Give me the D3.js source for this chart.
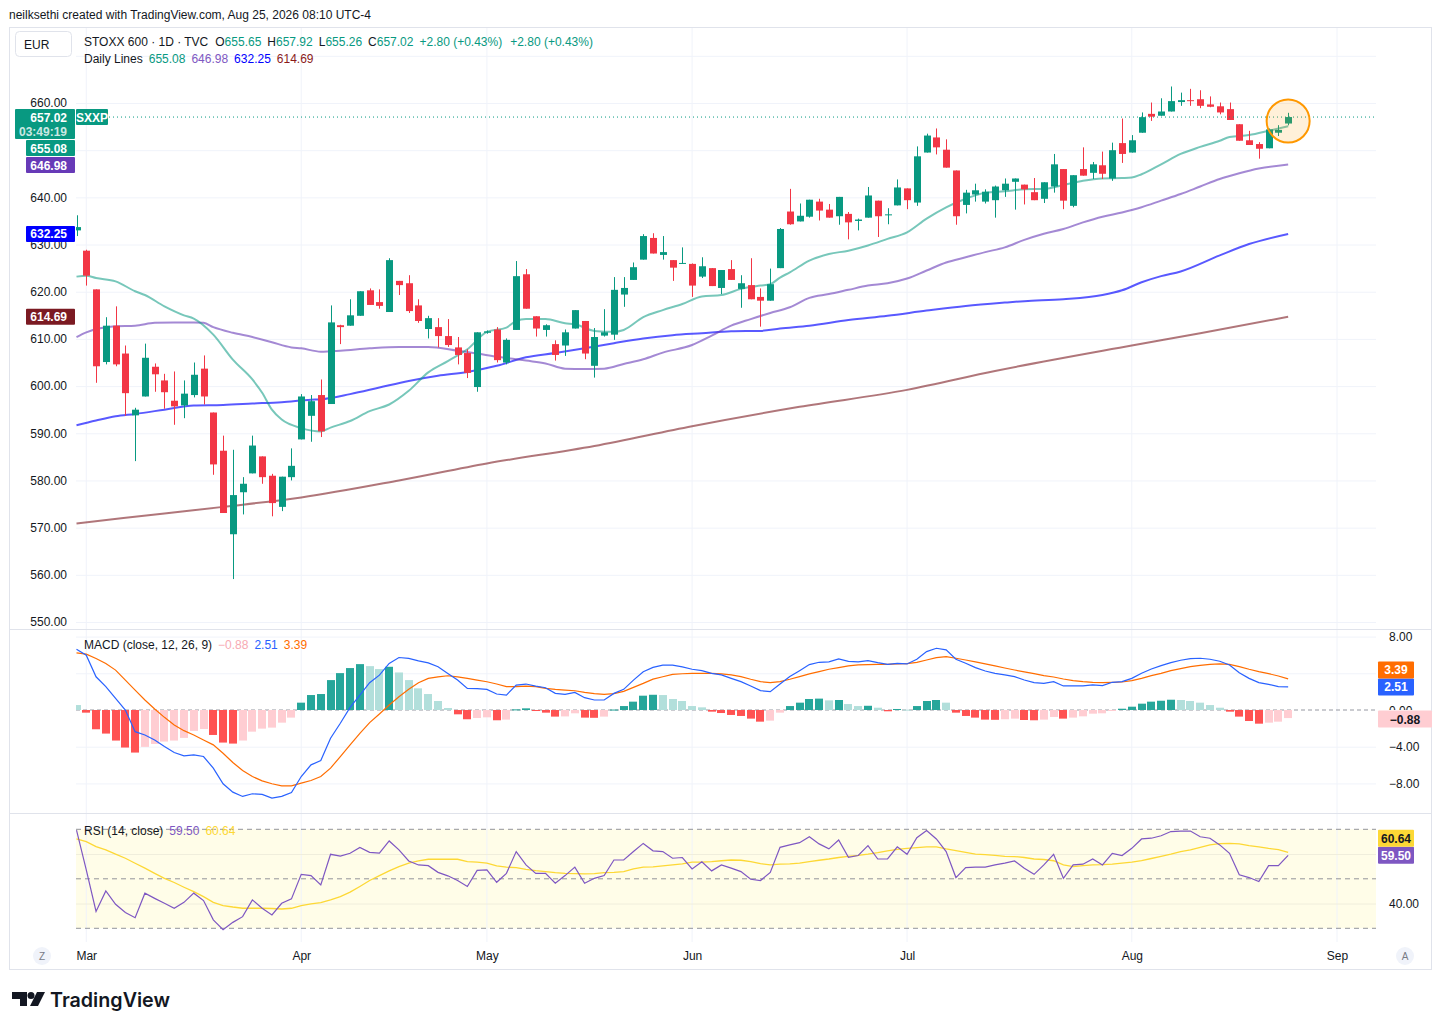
<!DOCTYPE html>
<html>
<head>
<meta charset="utf-8">
<script src="https://cdn.jsdelivr.net/npm/d3@7"></script>
<style>
  body { margin: 0; background: #fff; }
  svg text { font-family: "Liberation Sans", Arial, sans-serif; }
</style>
</head>
<body>
<svg id="chart" width="1441" height="1030"></svg>
<script>
// Données : une bougie par séance, la première (index -1) est celle du 27 février
const firstBar = -1;

const open = [
  633.0, 628.7, 620.5, 605.1, 612.8, 606.9, 593.8, 597.8, 604.1, 601.2,
  596.9, 595.9, 598.1, 603.7, 594.4, 586.3, 568.6, 577.5, 581.5, 585.1,
  581.0, 574.4, 580.7, 588.7, 593.7, 598.1, 596.2, 612.9, 612.8, 614.9,
  620.3, 617.8, 615.7, 622.3, 621.8, 617.1, 612.1, 612.5, 610.6, 608.2,
  607.0, 599.8, 611.3, 612.0, 605.0, 611.9, 623.7, 614.8, 611.9, 608.9,
  608.6, 612.2, 613.8, 604.3, 610.7, 610.9, 619.4, 622.5, 626.8, 631.4,
  627.8, 626.7, 625.9, 625.9, 623.2, 625.0, 620.8, 624.8, 620.6, 621.4,
  618.9, 618.1, 625.0, 637.0, 634.9, 635.9, 639.1, 637.4, 636.0, 636.5,
  635.0, 635.7, 639.3, 636.2, 638.3, 641.9, 638.9, 649.5, 652.7, 650.1,
  645.7, 638.4, 640.6, 639.1, 639.4, 641.5, 643.3, 642.7, 641.1, 639.7,
  642.3, 646.0, 638.2, 646.0, 645.2, 646.8, 644.0, 651.5, 649.5, 653.7,
  657.7, 657.3, 658.2, 660.2, 660.6, 660.8, 659.7, 659.3, 658.7, 655.5,
  652.1, 651.3, 650.4, 653.7, 655.65
];
const high = [
  636.2, 628.9, 620.5, 614.6, 616.9, 608.6, 595.4, 609.0, 604.8, 602.6,
  603.1, 601.2, 605.0, 606.5, 594.4, 589.5, 586.5, 580.7, 589.5, 585.1,
  581.4, 580.8, 586.8, 598.3, 598.1, 601.4, 617.1, 613.0, 618.4, 620.1,
  620.7, 620.5, 627.1, 622.3, 623.5, 618.4, 614.9, 614.4, 614.2, 610.4,
  607.8, 611.4, 611.8, 612.5, 610.1, 626.5, 624.8, 614.8, 613.1, 609.7,
  612.0, 616.1, 613.8, 612.3, 616.3, 623.1, 623.1, 626.2, 632.2, 632.4,
  631.8, 626.7, 629.4, 626.0, 627.3, 625.0, 624.6, 626.7, 623.5, 627.1,
  620.7, 624.9, 633.5, 641.8, 638.7, 639.5, 639.7, 638.6, 640.1, 636.9,
  635.5, 642.2, 639.3, 637.7, 643.8, 641.9, 650.8, 653.5, 654.6, 652.3,
  645.7, 641.6, 642.9, 641.7, 642.5, 644.0, 644.0, 642.7, 644.1, 643.2,
  649.2, 646.0, 644.7, 650.6, 647.5, 649.7, 651.6, 656.7, 653.2, 658.0,
  660.1, 661.0, 663.5, 662.2, 663.0, 662.7, 661.4, 660.1, 660.1, 655.5,
  654.1, 651.7, 654.6, 655.3, 657.92
];
const low = [
  631.8, 621.3, 600.7, 604.6, 604.2, 593.7, 584.1, 597.8, 598.8, 595.2,
  591.8, 593.2, 597.6, 596.1, 581.2, 573.1, 559.1, 572.8, 581.5, 579.3,
  572.4, 573.5, 580.0, 588.7, 588.2, 589.2, 596.2, 608.9, 612.8, 614.9,
  617.2, 616.4, 615.7, 619.3, 615.5, 613.4, 610.1, 608.2, 608.3, 604.6,
  601.7, 598.8, 611.1, 605.0, 604.6, 611.9, 616.4, 610.5, 610.5, 605.4,
  606.4, 612.2, 605.7, 601.8, 610.5, 609.8, 616.8, 622.5, 626.8, 628.1,
  626.8, 622.3, 625.9, 618.9, 622.9, 621.2, 619.5, 622.5, 616.6, 618.4,
  612.6, 618.1, 625.0, 634.2, 634.9, 635.7, 635.1, 635.7, 634.2, 631.1,
  633.0, 635.7, 631.6, 634.3, 638.3, 637.5, 638.2, 649.5, 649.1, 646.3,
  634.2, 636.6, 639.1, 638.7, 635.7, 640.1, 637.4, 638.5, 639.4, 638.8,
  641.0, 637.5, 637.9, 644.6, 643.9, 643.9, 643.5, 647.3, 649.5, 653.7,
  656.2, 657.3, 658.2, 659.4, 659.4, 658.9, 659.1, 657.6, 656.4, 652.0,
  651.1, 648.2, 650.4, 653.0, 655.26
];
const close = [
  633.7, 623.4, 604.2, 612.8, 604.6, 598.5, 595.0, 606.0, 602.5, 598.7,
  595.7, 598.4, 602.4, 597.8, 583.4, 573.1, 576.9, 579.3, 587.4, 580.7,
  575.2, 580.8, 583.1, 597.8, 596.8, 590.4, 613.5, 612.5, 615.0, 620.1,
  617.2, 617.0, 626.7, 621.4, 615.9, 613.8, 614.4, 610.6, 608.7, 606.6,
  602.8, 611.4, 611.6, 605.5, 609.8, 623.3, 616.4, 612.2, 612.9, 606.6,
  611.4, 616.1, 606.9, 610.4, 611.4, 620.4, 620.8, 625.2, 631.8, 628.1,
  628.4, 625.1, 626.1, 621.3, 625.4, 621.2, 624.6, 622.5, 621.8, 618.4,
  618.1, 621.6, 633.3, 634.3, 636.1, 639.5, 637.2, 635.7, 640.1, 634.7,
  635.3, 640.4, 636.0, 636.4, 642.1, 639.4, 648.7, 653.1, 650.6, 646.3,
  636.0, 641.0, 641.5, 641.2, 642.3, 642.9, 644.0, 641.7, 639.4, 643.2,
  647.0, 639.3, 644.7, 644.6, 647.0, 645.0, 650.0, 649.2, 652.1, 657.0,
  657.1, 658.2, 660.4, 660.6, 660.4, 659.4, 659.2, 658.0, 656.4, 652.0,
  651.1, 650.3, 654.4, 654.3, 657.02
];

// Moyennes mobiles : [index de séance, valeur]
const sma20 = [[-1,623.2],[0,623.4],[1,622.9],[3,622.2],[5,620.1],[6,619.3],[8,616.9],[10,615.0],[11,614.3],[13,610.9],[15,605.6],[17,601.4],[18,598.6],[19,595.0],[20,592.9],[22,591.1],[24,590.4],[25,591.2],[27,592.6],[29,594.7],[31,596.1],[33,599.0],[35,602.9],[37,605.3],[39,607.8],[41,611.5],[43,612.4],[44,613.8],[45,614.2],[47,614.2],[49,613.3],[50,613.1],[52,611.7],[54,611.5],[55,611.9],[57,614.6],[59,616.1],[61,617.4],[63,619.0],[65,619.3],[67,620.6],[69,621.3],[70,621.6],[71,623.0],[72,624.1],[74,626.6],[76,628.0],[78,628.7],[80,629.8],[82,631.2],[84,632.6],[86,635.5],[88,637.9],[90,639.7],[92,641.0],[94,641.3],[96,641.7],[98,641.8],[100,642.6],[102,643.5],[104,644.0],[106,644.1],[107,644.2],[108,644.9],[110,647.0],[112,649.2],[114,650.7],[116,652.0],[117,652.8],[119,653.2],[121,654.1],[123,655.08]];
const sma50 = [[-1,610.4],[0,611.4],[3,612.7],[5,612.8],[7,613.4],[9,613.5],[11,613.5],[12,613.4],[13,612.5],[15,611.3],[17,610.4],[19,609.3],[21,608.2],[22,608.0],[24,607.3],[26,607.5],[29,608.0],[32,608.3],[35,608.3],[38,607.5],[40,606.9],[42,606.2],[44,605.7],[45,605.4],[47,604.8],[49,603.7],[51,603.6],[53,603.7],[55,604.7],[57,605.7],[59,607.1],[62,608.7],[64,610.7],[66,612.8],[68,614.2],[70,615.5],[72,616.7],[74,618.7],[76,619.5],[78,620.4],[80,621.3],[82,621.8],[84,622.8],[86,624.5],[88,626.2],[90,627.3],[92,628.4],[94,629.4],[96,631.0],[98,632.3],[100,633.3],[102,634.7],[104,635.9],[106,636.8],[108,637.9],[110,639.3],[112,640.7],[114,642.3],[116,643.9],[118,645.1],[120,646.1],[123,646.98]];
const sma100 = [[-1,591.7],[1,592.7],[3,593.6],[5,594.1],[8,595.0],[11,595.9],[14,596.0],[17,596.3],[20,596.6],[23,597.1],[24,597.2],[27,598.3],[30,599.7],[33,601.1],[36,602.2],[39,603.0],[42,604.3],[45,606.1],[48,607.0],[51,608.0],[54,609.1],[57,610.1],[60,610.8],[63,611.2],[66,611.6],[69,611.7],[71,612.2],[74,612.8],[78,614.0],[82,614.9],[86,616.0],[90,617.0],[94,617.7],[96,618.0],[100,618.4],[104,619.3],[106,620.3],[108,622.0],[110,623.3],[112,624.3],[116,627.7],[119,630.1],[123,632.25]];
const sma200 = [[-1,570.9],[8,573.0],[14,574.4],[22,576.4],[32,580.0],[41,583.6],[52,587.3],[62,591.5],[73,595.6],[84,599.2],[93,603.2],[107,608.6],[114,611.2],[123,614.69]];

// MACD (12, 26, 9)
const macdLine = [
  6.63, 5.98, 3.62, 2.54, 1.27, 0.00, -2.36, -2.72, -3.26, -3.99,
  -4.64, -5.00, -4.89, -5.07, -6.34, -8.04, -8.95, -9.42, -9.13, -9.20,
  -9.60, -9.42, -8.99, -7.25, -5.98, -5.51, -3.08, -1.45, 0.29, 1.63,
  2.97, 3.80, 5.07, 5.72, 5.62, 5.36, 5.14, 4.71, 3.99, 3.26,
  2.36, 2.32, 2.25, 1.74, 1.63, 2.72, 2.83, 2.61, 2.43, 1.81,
  1.70, 1.92, 1.34, 1.09, 1.09, 1.81, 2.25, 3.26, 4.17, 4.64,
  4.89, 4.89, 4.70, 4.44, 4.29, 4.00, 3.82, 3.45, 3.09, 2.62,
  2.11, 2.00, 2.84, 3.64, 4.29, 4.95, 5.20, 5.24, 5.56, 5.31,
  5.24, 5.38, 5.16, 4.98, 5.09, 5.02, 5.53, 6.36, 6.73, 6.55,
  5.53, 5.09, 4.62, 4.25, 4.00, 3.82, 3.64, 3.27, 2.98, 2.91,
  3.09, 2.62, 2.62, 2.62, 2.73, 2.65, 3.02, 3.09, 3.45, 4.00,
  4.47, 4.84, 5.16, 5.42, 5.60, 5.64, 5.53, 5.31, 4.91, 4.07,
  3.45, 2.98, 2.80, 2.55, 2.51
];
const signalLine = [
  6.23, 6.09, 5.62, 5.07, 4.35, 3.26, 2.17, 1.09, 0.11, -0.80,
  -1.63, -2.25, -2.72, -3.26, -3.80, -4.71, -5.72, -6.59, -7.25, -7.72,
  -8.04, -8.26, -8.26, -7.97, -7.68, -7.25, -6.34, -5.07, -3.80, -2.54,
  -1.38, -0.43, 0.54, 1.45, 2.25, 2.97, 3.44, 3.62, 3.73, 3.62,
  3.44, 3.26, 3.08, 2.83, 2.54, 2.54, 2.61, 2.54, 2.36, 2.25,
  2.17, 2.10, 1.92, 1.78, 1.70, 1.78, 2.03, 2.46, 2.90, 3.37,
  3.62, 3.88, 3.95, 4.00, 4.00, 4.00, 3.93, 3.82, 3.64, 3.35,
  3.09, 2.98, 3.09, 3.35, 3.64, 3.93, 4.18, 4.44, 4.62, 4.80,
  4.91, 4.95, 4.98, 4.98, 5.02, 5.05, 5.20, 5.45, 5.71, 5.82,
  5.64, 5.45, 5.24, 5.02, 4.80, 4.58, 4.36, 4.15, 3.96, 3.75,
  3.60, 3.38, 3.20, 3.09, 3.02, 2.98, 3.02, 3.05, 3.20, 3.45,
  3.75, 4.00, 4.29, 4.51, 4.73, 4.87, 4.98, 5.02, 4.98, 4.73,
  4.44, 4.18, 3.96, 3.71, 3.39
];
const histogram = [
  0.54, -0.29, -2.10, -2.57, -3.33, -4.09, -4.64, -4.02, -3.70, -3.44,
  -3.33, -3.04, -2.28, -2.07, -2.72, -3.55, -3.66, -3.33, -2.36, -2.03,
  -1.92, -1.38, -0.83, 0.80, 1.63, 1.74, 3.26, 4.02, 4.57, 5.00,
  4.78, 4.46, 4.71, 4.09, 3.26, 2.36, 1.74, 0.98, 0.22, -0.47,
  -1.01, -0.87, -0.80, -1.12, -1.05, 0.07, 0.18, -0.11, -0.29, -0.72,
  -0.70, -0.36, -0.83, -0.85, -0.72, 0.05, 0.43, 0.91, 1.56, 1.66,
  1.63, 1.20, 0.98, 0.43, 0.29, -0.18, -0.33, -0.54, -0.65, -0.94,
  -1.27, -1.16, -0.29, 0.43, 0.80, 1.20, 1.24, 1.05, 1.09, 0.65,
  0.43, 0.46, 0.25, -0.14, 0.11, 0.04, 0.43, 0.98, 1.09, 0.80,
  -0.29, -0.65, -0.83, -1.05, -1.07, -1.01, -0.94, -1.09, -1.12, -1.05,
  -0.76, -0.94, -0.83, -0.69, -0.40, -0.36, -0.07, 0.14, 0.36, 0.69,
  0.91, 1.01, 1.12, 1.09, 0.98, 0.80, 0.54, 0.25, -0.18, -0.72,
  -1.20, -1.49, -1.38, -1.27, -0.88
];

// RSI (14) et sa moyenne
const rsi = [
  69.7, 53.6, 36.8, 45.1, 39.7, 36.4, 34.3, 44.2, 42.1, 40.1,
  38.1, 40.5, 44.2, 41.2, 33.4, 29.4, 32.4, 34.7, 41.5, 38.1,
  35.4, 40.1, 41.9, 51.8, 51.3, 47.5, 59.9, 59.2, 60.3, 62.7,
  60.7, 60.4, 65.3, 61.7, 57.2, 55.6, 55.3, 52.6, 51.2, 49.3,
  46.9, 53.4, 53.6, 48.6, 52.2, 61.0, 55.6, 52.2, 52.2, 48.2,
  51.3, 54.7, 48.2, 50.2, 51.3, 57.6, 57.6, 61.0, 64.3, 61.3,
  61.0, 58.3, 58.6, 54.0, 56.9, 53.2, 55.6, 54.3, 52.9, 49.8,
  49.3, 52.6, 62.7, 63.7, 64.6, 67.0, 64.1, 62.1, 65.7, 58.7,
  59.4, 63.4, 58.0, 58.0, 62.9, 59.9, 66.6, 69.5, 66.1, 61.0,
  50.5, 54.5, 54.7, 54.7, 55.6, 56.3, 57.2, 54.3, 51.8, 55.6,
  59.9, 50.2, 55.6, 55.9, 58.0, 55.6, 60.3, 59.4, 62.3, 66.1,
  66.4, 67.4, 69.1, 69.3, 69.3, 67.0, 66.4, 63.7, 60.3, 51.6,
  50.5, 48.9, 55.3, 55.3, 59.5
];
const rsiMa = [
  66.1, 65.0, 63.0, 61.7, 60.0, 58.3, 56.3, 54.3, 52.2, 50.2,
  48.5, 46.6, 44.8, 42.8, 40.5, 39.2, 38.6, 38.1, 38.1, 38.1,
  38.0, 37.8, 38.1, 39.2, 39.9, 40.4, 41.5, 42.8, 44.6, 46.9,
  49.3, 51.3, 53.2, 54.9, 56.3, 57.2, 57.9, 57.9, 57.9, 57.9,
  56.9, 56.7, 56.3, 55.2, 54.7, 54.5, 53.8, 53.3, 52.9, 52.5,
  52.2, 52.1, 52.0, 52.1, 52.5, 52.6, 52.9, 54.0, 54.7, 54.8,
  55.2, 55.6, 56.0, 56.7, 56.7, 56.9, 57.3, 57.6, 57.5, 56.9,
  56.1, 55.6, 55.9, 56.0, 56.3, 56.9, 57.5, 58.0, 58.6, 59.1,
  59.5, 60.0, 60.6, 61.3, 61.9, 62.3, 62.6, 62.9, 62.9, 62.1,
  61.4, 60.7, 60.0, 59.8, 59.5, 59.1, 59.0, 58.6, 58.0, 57.8,
  57.3, 55.6, 54.9, 55.3, 55.6, 55.7, 55.9, 56.3, 56.7, 57.3,
  58.2, 59.1, 60.0, 61.0, 61.7, 62.7, 63.7, 64.2, 64.3, 64.1,
  63.4, 62.9, 62.3, 61.8, 60.64
];

// Axe du temps
const monthLabels = ["Mar", "Apr", "May", "Jun", "Jul", "Aug", "Sep"];
const monthBars = [0, 22, 41, 62, 84, 107, 128];
const priceTicks = [550, 560, 570, 580, 590, 600, 610, 620, 630, 640, 650, 660];
const priceLabelTicks = [550, 560, 570, 580, 590, 600, 610, 620, 630, 640, 660]; // 650 caché sous les étiquettes

// Couleurs
const UP = "#089981", DOWN = "#F23645";
const FONT = '"Liberation Sans", Arial, sans-serif';

const svg = d3.select("#chart");

// Échelles
const x = d3.scaleLinear().domain([-1, 128]).range([76.5, 1337]);
const yPrice = d3.scaleLinear().domain([550, 660]).range([622, 103]);
const yMacd = d3.scaleLinear().domain([-8, 8]).range([783.4, 636.6]);
const yRsi = d3.scaleLinear().domain([30, 70]).range([928.3, 829.3]);

const plotLeft = 76, plotRight = 1376;

// Fond + cadre
svg.append("rect").attr("width", 1441).attr("height", 1030).attr("fill", "#fff");

const defs = svg.append("defs");
defs.append("clipPath").attr("id", "clipMain").append("rect")
    .attr("x", plotLeft).attr("y", 28).attr("width", plotRight - plotLeft).attr("height", 600);
defs.append("clipPath").attr("id", "clipMacd").append("rect")
    .attr("x", plotLeft).attr("y", 630).attr("width", plotRight - plotLeft).attr("height", 183);
defs.append("clipPath").attr("id", "clipRsi").append("rect")
    .attr("x", plotLeft).attr("y", 814).attr("width", plotRight - plotLeft).attr("height", 128);

// Zone RSI (fond jaune entre 30 et 70)
svg.append("rect")
    .attr("x", plotLeft).attr("y", yRsi(70))
    .attr("width", plotRight - plotLeft).attr("height", yRsi(30) - yRsi(70))
    .attr("fill", "#FFFDE8");

// Grille verticale (mois)
svg.append("g").selectAll("line")
    .data(monthBars).enter().append("line")
    .attr("x1", d => x(d)).attr("x2", d => x(d))
    .attr("y1", 28).attr("y2", 942)
    .attr("stroke", "#F0F3FA");

// Grille horizontale du panneau prix
const gridMain = svg.append("g")
    .attr("transform", `translate(${plotLeft},0)`)
    .call(d3.axisRight(yPrice).tickValues(priceTicks.concat([670])).tickSize(plotRight - plotLeft).tickFormat(""));
gridMain.select(".domain").remove();
gridMain.selectAll("line").attr("stroke", "#F0F3FA");

// Grille MACD
const gridMacd = svg.append("g")
    .attr("transform", `translate(${plotLeft},0)`)
    .call(d3.axisRight(yMacd).tickValues([-8, -4, 4, 8]).tickSize(plotRight - plotLeft).tickFormat(""));
gridMacd.select(".domain").remove();
gridMacd.selectAll("line").attr("stroke", "#F0F3FA");

// Grille RSI
const gridRsi = svg.append("g")
    .attr("transform", `translate(${plotLeft},0)`)
    .call(d3.axisRight(yRsi).tickValues([40, 60]).tickSize(plotRight - plotLeft).tickFormat(""));
gridRsi.select(".domain").remove();
gridRsi.selectAll("line").attr("stroke", "#F0EEDC");

// Lignes pointillées RSI et zéro MACD
svg.append("g").selectAll("line")
    .data([70, 50, 30]).enter().append("line")
    .attr("x1", plotLeft).attr("x2", plotRight)
    .attr("y1", d => yRsi(d)).attr("y2", d => yRsi(d))
    .attr("stroke", "#787B86").attr("stroke-dasharray", "5,4").attr("stroke-opacity", 0.8);
svg.append("line")
    .attr("x1", plotLeft).attr("x2", plotRight)
    .attr("y1", yMacd(0)).attr("y2", yMacd(0))
    .attr("stroke", "#9598A1").attr("stroke-dasharray", "4,3");

// Cadre et séparateurs de panneaux
svg.append("rect").attr("x", 9.5).attr("y", 27.5).attr("width", 1422).attr("height", 942)
    .attr("fill", "none").attr("stroke", "#E0E3EB");
[629.5, 813.5].forEach(yy => {
    svg.append("line").attr("x1", 9.5).attr("x2", 1431.5).attr("y1", yy).attr("y2", yy).attr("stroke", "#E0E3EB");
});

// ---------- Panneau prix ----------
const main = svg.append("g").attr("clip-path", "url(#clipMain)");

const line = (ys) => d3.line().x(d => x(d[0])).y(d => ys(d[1])).curve(d3.curveMonotoneX);

const maLines = [
    { data: sma200, color: "#7B1A22", op: 0.6 },
    { data: sma100, color: "#0000FF", op: 0.65 },
    { data: sma50,  color: "#673AB7", op: 0.6 },
    { data: sma20,  color: "#089981", op: 0.55 }
];
maLines.forEach(m => {
    main.append("path").datum(m.data)
        .attr("d", line(yPrice))
        .attr("fill", "none").attr("stroke", m.color)
        .attr("stroke-opacity", m.op).attr("stroke-width", 2);
});

const bars = close.map((c, k) => ({ i: k + firstBar, o: open[k], h: high[k], l: low[k], c: c }));

// Mèches
main.append("g").selectAll("line")
    .data(bars).enter().append("line")
    .attr("x1", d => Math.round(x(d.i)) + 0.5).attr("x2", d => Math.round(x(d.i)) + 0.5)
    .attr("y1", d => yPrice(d.h)).attr("y2", d => yPrice(d.l))
    .attr("stroke", d => d.c >= d.o ? UP : DOWN).attr("stroke-width", 1);

// Corps
main.append("g").selectAll("rect")
    .data(bars).enter().append("rect")
    .attr("x", d => Math.round(x(d.i)) - 3)
    .attr("y", d => yPrice(Math.max(d.o, d.c)))
    .attr("width", 7)
    .attr("height", d => Math.max(1, Math.abs(yPrice(d.o) - yPrice(d.c))))
    .attr("fill", d => d.c >= d.o ? UP : DOWN);

// Ligne du dernier cours
const last = bars[bars.length - 1];
svg.append("line")
    .attr("x1", 109).attr("x2", plotRight)
    .attr("y1", yPrice(last.c)).attr("y2", yPrice(last.c))
    .attr("stroke", UP).attr("stroke-dasharray", "1,3").attr("stroke-width", 1);

// Cercle de mise en évidence
svg.append("circle")
    .attr("cx", x(last.i)).attr("cy", 121).attr("r", 21.5)
    .attr("fill", "#FF9800").attr("fill-opacity", 0.15)
    .attr("stroke", "#FF9800").attr("stroke-width", 2);

// Axe des prix (gauche)
const priceAxis = svg.append("g")
    .attr("transform", `translate(75,0)`)
    .call(d3.axisLeft(yPrice).tickValues(priceLabelTicks).tickFormat(d3.format(".2f")).tickSize(0).tickPadding(8));
priceAxis.select(".domain").remove();
priceAxis.selectAll("text")
    .attr("fill", "#131722").style("font-size", "12px").style("font-family", FONT);

// Étiquettes de prix empilées
const priceTags = [
    { v: 657.02, color: UP, x0: 15, h: 30, sub: "03:49:19" },
    { v: 655.08, color: UP, x0: 26, h: 16 },
    { v: 646.98, color: "#673AB7", x0: 26, h: 16 },
    { v: 632.25, color: "#0000FF", x0: 26, h: 16 },
    { v: 614.69, color: "#7B1A22", x0: 26, h: 16 }
];
let prevBottom = -Infinity;
priceTags.forEach(t => {
    let top = Math.max(yPrice(t.v) - 8, prevBottom + 1);
    prevBottom = top + t.h;
    svg.append("rect").attr("x", t.x0).attr("y", top).attr("width", 75 - t.x0).attr("height", t.h)
        .attr("fill", t.color).attr("rx", 1);
    svg.append("text").attr("x", 67).attr("y", top + 12.5).attr("text-anchor", "end")
        .attr("fill", "#fff").style("font-size", "12px").style("font-weight", "bold").text(t.v.toFixed(2));
    if (t.sub) {
        svg.append("text").attr("x", 67).attr("y", top + 26.5).attr("text-anchor", "end")
            .attr("fill", "#fff").attr("fill-opacity", 0.8).style("font-size", "12px").style("font-weight", "bold").text(t.sub);
    }
});
svg.append("rect").attr("x", 76).attr("y", 109).attr("width", 32).attr("height", 16).attr("fill", UP).attr("rx", 1);
svg.append("text").attr("x", 92).attr("y", 121.5).attr("text-anchor", "middle")
    .attr("fill", "#fff").style("font-size", "12px").style("font-weight", "bold").text("SXXP");

// ---------- Panneau MACD ----------
const macdG = svg.append("g").attr("clip-path", "url(#clipMacd)");
const histColor = (v, k) => {
    const prev = k > 0 ? histogram[k - 1] : v;
    if (v >= 0) return v > prev ? "#26A69A" : "#B2DFDB";
    return v < prev ? "#FF5252" : "#FFCDD2";
};
macdG.append("g").selectAll("rect")
    .data(histogram).enter().append("rect")
    .attr("x", (d, k) => Math.round(x(k + firstBar)) - 4)
    .attr("y", d => Math.min(yMacd(d), yMacd(0)))
    .attr("width", 8)
    .attr("height", d => Math.max(1, Math.abs(yMacd(d) - yMacd(0))))
    .attr("fill", histColor);

const seriesLine = (ys) => d3.line().x((d, k) => x(k + firstBar)).y(d => ys(d));
macdG.append("path").datum(signalLine).attr("d", seriesLine(yMacd))
    .attr("fill", "none").attr("stroke", "#FF6D00").attr("stroke-width", 1.2);
macdG.append("path").datum(macdLine).attr("d", seriesLine(yMacd))
    .attr("fill", "none").attr("stroke", "#2962FF").attr("stroke-width", 1.2);

// Axe MACD : 4.00 est caché sous les étiquettes, 0.00 n'est qu'à moitié visible
const macdAxis = svg.append("g")
    .attr("transform", `translate(${plotRight + 1},0)`)
    .call(d3.axisRight(yMacd).tickValues([-8, -4, 8]).tickFormat(d3.format(".2f")).tickSize(0).tickPadding(12));
macdAxis.select(".domain").remove();
macdAxis.selectAll("text").attr("fill", "#131722").style("font-size", "12px").style("font-family", FONT)
    .text(d => d < 0 ? "\u2212" + Math.abs(d).toFixed(2) : d.toFixed(2));

// 0.00 : seule la moitié haute dépasse au-dessus de l'étiquette −0.88
defs.append("clipPath").attr("id", "clipZero").append("rect")
    .attr("x", 1377).attr("y", 700).attr("width", 60).attr("height", 10);
svg.append("text").attr("clip-path", "url(#clipZero)")
    .attr("x", 1389).attr("y", yMacd(0) + 4.5).attr("fill", "#131722")
    .style("font-size", "12px").text("0.00");

// ---------- Panneau RSI ----------
const rsiG = svg.append("g").attr("clip-path", "url(#clipRsi)");
rsiG.append("path").datum(rsiMa).attr("d", seriesLine(yRsi))
    .attr("fill", "none").attr("stroke", "#FDD835").attr("stroke-width", 1.3);
rsiG.append("path").datum(rsi).attr("d", seriesLine(yRsi))
    .attr("fill", "none").attr("stroke", "#7E57C2").attr("stroke-width", 1.2);

const rsiAxis = svg.append("g")
    .attr("transform", `translate(${plotRight + 1},0)`)
    .call(d3.axisRight(yRsi).tickValues([40]).tickFormat(d3.format(".2f")).tickSize(0).tickPadding(12));
rsiAxis.select(".domain").remove();
rsiAxis.selectAll("text").attr("fill", "#131722").style("font-size", "12px").style("font-family", FONT);

// Étiquettes de valeurs à droite
function rightTag(yc, label, bg, fg, w) {
    svg.append("rect").attr("x", 1378).attr("y", yc - 8.5).attr("width", w).attr("height", 17)
        .attr("fill", bg).attr("rx", 1);
    svg.append("text").attr("x", 1378 + w / 2).attr("y", yc + 4.5).attr("text-anchor", "middle")
        .attr("fill", fg).style("font-size", "12px").style("font-weight", "bold").text(label);
}
const lastK = close.length - 1;
const yBlue = yMacd(macdLine[lastK]);
rightTag(yBlue, macdLine[lastK].toFixed(2), "#2962FF", "#fff", 36);
rightTag(Math.min(yMacd(signalLine[lastK]), yBlue - 17), signalLine[lastK].toFixed(2), "#FF6D00", "#fff", 36);
rightTag(yMacd(histogram[lastK]) + 1, "\u2212" + Math.abs(histogram[lastK]).toFixed(2), "#FFCDD2", "#131722", 54);
const yPurple = yRsi(rsi[lastK]);
rightTag(yPurple, rsi[lastK].toFixed(2), "#7E57C2", "#fff", 36);
rightTag(Math.min(yRsi(rsiMa[lastK]), yPurple - 17), rsiMa[lastK].toFixed(2), "#FDD835", "#131722", 36);

// ---------- Axe du temps ----------
const timeAxis = svg.append("g")
    .attr("transform", "translate(0,950)")
    .call(d3.axisBottom(x).tickValues(monthBars).tickFormat((d, k) => monthLabels[k]).tickSize(0).tickPadding(0));
timeAxis.select(".domain").remove();
timeAxis.selectAll("text").attr("fill", "#131722").style("font-size", "12px").style("font-family", FONT)
    .attr("dy", "0.85em");

[[42, "Z"], [1405, "A"]].forEach(([cx, t]) => {
    svg.append("circle").attr("cx", cx).attr("cy", 956).attr("r", 9).attr("fill", "#F0F3FA");
    svg.append("text").attr("x", cx).attr("y", 960).attr("text-anchor", "middle")
        .attr("fill", "#787B86").style("font-size", "10px").text(t);
});

// ---------- Textes d'en-tête ----------
svg.append("text").attr("x", 9).attr("y", 19).attr("fill", "#131722").style("font-size", "12px")
    .text("neilksethi created with TradingView.com, Aug 25, 2026 08:10 UTC-4");

svg.append("rect").attr("x", 15.5).attr("y", 31.5).attr("width", 56).attr("height", 25).attr("rx", 4)
    .attr("fill", "#fff").attr("stroke", "#E0E3EB");
svg.append("text").attr("x", 24).attr("y", 49).attr("fill", "#131722").style("font-size", "12px").text("EUR");

// Une ligne de texte faite de morceaux qui se suivent, avec un écart dx avant chaque morceau
function legendRow(x0, y0, pieces) {
    const t = svg.append("text").attr("x", x0).attr("y", y0).style("font-size", "12px");
    pieces.forEach(p => t.append("tspan").attr("dx", p.dx || 0).attr("fill", p.c).text(p.t));
}

legendRow(84, 46, [
    { t: "STOXX 600 \u00b7 1D \u00b7 TVC", c: "#131722" },
    { t: "O", c: "#131722", dx: 7 }, { t: "655.65", c: UP },
    { t: "H", c: "#131722", dx: 6 }, { t: "657.92", c: UP },
    { t: "L", c: "#131722", dx: 6 }, { t: "655.26", c: UP },
    { t: "C", c: "#131722", dx: 6 }, { t: "657.02", c: UP },
    { t: "+2.80 (+0.43%)", c: UP, dx: 6 },
    { t: "+2.80 (+0.43%)", c: UP, dx: 8 }
]);

legendRow(84, 63, [
    { t: "Daily Lines", c: "#131722" },
    { t: "655.08", c: UP, dx: 6 },
    { t: "646.98", c: "#7E57C2", dx: 6 },
    { t: "632.25", c: "#0000FF", dx: 6 },
    { t: "614.69", c: "#8B1A1A", dx: 6 }
]);

legendRow(84, 649, [
    { t: "MACD (close, 12, 26, 9)", c: "#131722" },
    { t: "\u22120.88", c: "#F7AAB3", dx: 6 },
    { t: "2.51", c: "#2962FF", dx: 6 },
    { t: "3.39", c: "#FF6D00", dx: 6 }
]);

legendRow(84, 835, [
    { t: "RSI (14, close)", c: "#131722" },
    { t: "59.50", c: "#7E57C2", dx: 6 },
    { t: "60.64", c: "#FDD835", dx: 6 }
]);

// ---------- Logo TradingView ----------
const logo = svg.append("g").attr("fill", "#131722");
logo.append("path").attr("d", "M12,992 H27 V1006 H20 V999 H12 Z");
logo.append("circle").attr("cx", 31).attr("cy", 995.5).attr("r", 3.5);
logo.append("path").attr("d", "M37,992 H45 L38,1006 H30 Z");
logo.append("text").attr("x", 50).attr("y", 1006.5)
    .attr("textLength", 120).attr("lengthAdjust", "spacingAndGlyphs")
    .style("font-family", "Inter, 'Noto Sans', sans-serif").style("font-size", "20px").style("font-weight", "600")
    .text("TradingView");
</script>
</body>
</html>
